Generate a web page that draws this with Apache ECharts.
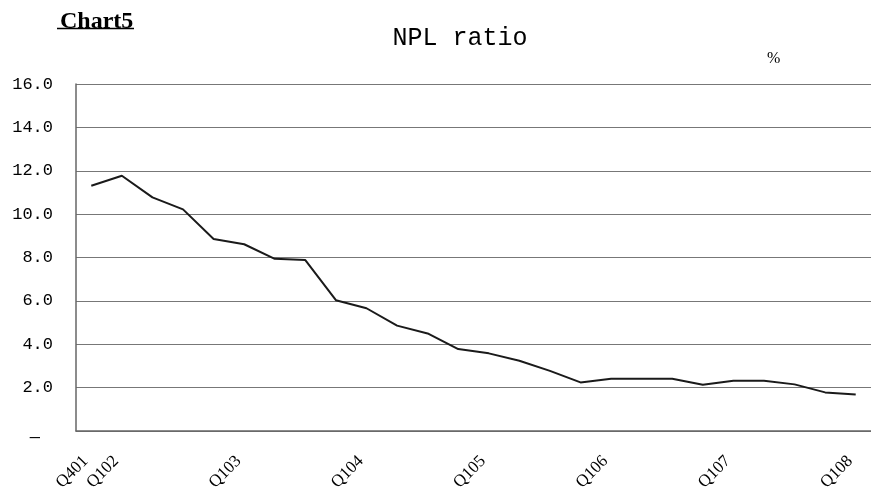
<!DOCTYPE html>
<html>
<head>
<meta charset="utf-8">
<script src="https://cdn.jsdelivr.net/npm/echarts@6/dist/echarts.min.js"></script>
<style>
  html, body { margin: 0; padding: 0; background: #fff; }
  #chart { width: 871px; height: 496px; }
</style>
</head>
<body>
<div id="chart"></div>
<script>
// Quarterly non-performing loan ratio, Q4 2001 through Q1 2008
const quarters = [
  'Q401',
  'Q102', 'Q202', 'Q302', 'Q402',
  'Q103', 'Q203', 'Q303', 'Q403',
  'Q104', 'Q204', 'Q304', 'Q404',
  'Q105', 'Q205', 'Q305', 'Q405',
  'Q106', 'Q206', 'Q306', 'Q406',
  'Q107', 'Q207', 'Q307', 'Q407',
  'Q108'
];
const nplRatio = [
  11.31, 11.77, 10.77, 10.22, 8.85, 8.61, 7.94, 7.88,
  6.03, 5.66, 4.86, 4.50, 3.78, 3.58, 3.24, 2.77,
  2.24, 2.41, 2.41, 2.41, 2.13, 2.32, 2.32, 2.15,
  1.78, 1.68
];
const yMin = 0, yMax = 16, yStep = 2;

const chart = echarts.init(document.getElementById('chart'), null, { renderer: 'canvas' });

chart.setOption({
  backgroundColor: '#ffffff',
  animation: false,
  title: [
    {
      text: 'NPL ratio',
      left: 455, top: 21, textAlign: 'center',
      textStyle: { fontFamily: 'Liberation Mono', fontSize: 25, fontWeight: 'normal', color: '#000' }
    },
    {
      text: 'Chart5',
      left: 55, top: 5,
      textStyle: { fontFamily: 'Liberation Serif', fontSize: 24, fontWeight: 'bold', color: '#000' }
    },
    {
      text: '%',
      left: 762, top: 46,
      textStyle: { fontFamily: 'Liberation Serif', fontSize: 16, fontWeight: 'normal', color: '#000' }
    }
  ],
  graphic: [
    { type: 'line', shape: { x1: 57, y1: 28.5, x2: 134, y2: 28.5 }, style: { stroke: '#000', lineWidth: 1.5 } }
  ],
  grid: { left: 76, right: -8, top: 84, bottom: 65, containLabel: false },
  xAxis: {
    type: 'category',
    data: quarters,
    boundaryGap: true,
    axisLine: { show: true, lineStyle: { color: '#666', width: 1.5 } },
    axisTick: { show: false },
    splitLine: { show: false },
    axisLabel: {
      rotate: 45,
      margin: 22,
      padding: [0, 8, 0, 0],
      interval: function (i) { return i === 0 || (i - 1) % 4 === 0; },
      fontFamily: 'Liberation Serif',
      fontSize: 17,
      color: '#000'
    }
  },
  yAxis: {
    type: 'value',
    min: yMin, max: yMax, interval: yStep,
    axisLine: { show: true, lineStyle: { color: '#666', width: 1.5 } },
    axisTick: { show: false },
    splitLine: { show: true, lineStyle: { color: '#777', width: 1.2 } },
    axisLabel: {
      margin: 23,
      fontFamily: 'Liberation Mono',
      fontSize: 17,
      color: '#000',
      formatter: function (v) { return v === 0 ? '{z|\u2014}' : v.toFixed(1); },
      rich: {
        z: { fontFamily: 'Liberation Mono', fontSize: 17, color: '#000', padding: [12, 13, 0, 0] }
      }
    }
  },
  series: [{
    type: 'line',
    data: nplRatio,
    symbol: 'none',
    lineStyle: { color: '#1a1a1a', width: 2 },
    clip: false
  }]
});
</script>
</body>
</html>
